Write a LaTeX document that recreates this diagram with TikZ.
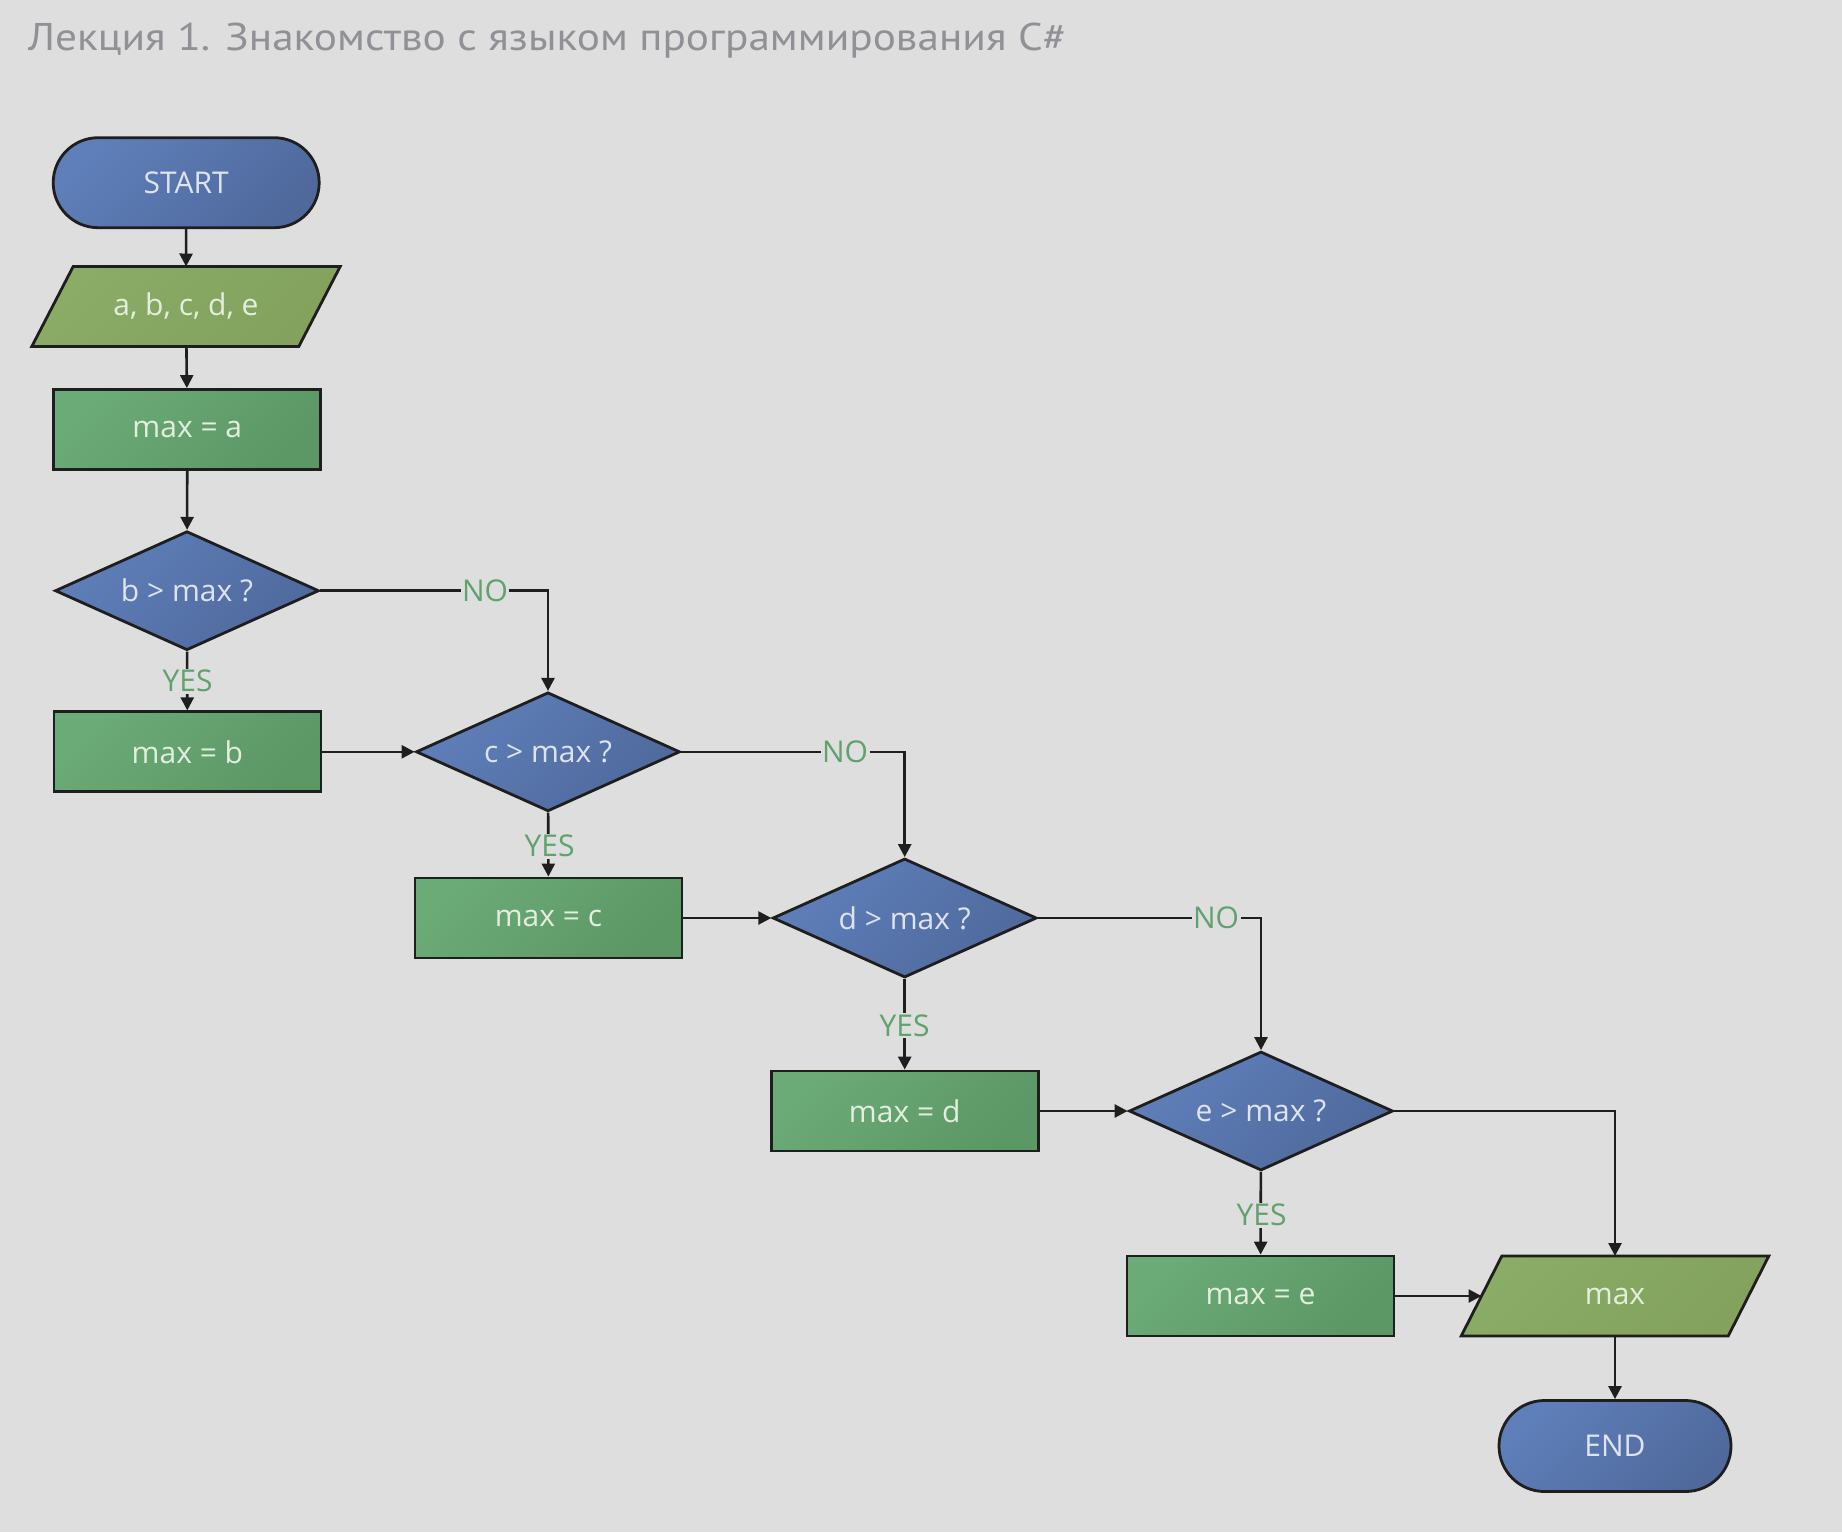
\documentclass[tikz,border=0pt]{standalone}
\usepackage{graphicx}
\usepackage{fontspec}
\setmainfont{Open Sans}
\newfontfamily\titlefont{PT Sans}
\usetikzlibrary{shapes.geometric,shapes.misc,arrows.meta,backgrounds}
\definecolor{bg}{HTML}{DEDEDE}
\definecolor{titlegray}{HTML}{909096}
\definecolor{blueL}{HTML}{5F7FBA}
\definecolor{blueD}{HTML}{4F699C}
\definecolor{rectL}{HTML}{6BAB77}
\definecolor{rectD}{HTML}{5C9766}
\definecolor{paraL}{HTML}{8AAC66}
\definecolor{paraD}{HTML}{82A25E}
\definecolor{linec}{HTML}{1E1E1E}
\definecolor{lblgreen}{HTML}{5FA26D}
\definecolor{txtblue}{HTML}{DEE4EF}
\definecolor{txtgreen}{HTML}{E4EEDF}
\begin{document}
\begin{tikzpicture}[x=1pt,y=-1pt,
  every node/.style={font=\fontsize{30}{36}\selectfont},
  shp/.style={draw=linec, line width=2.8pt, inner sep=0pt},
  termbox/.style={shp, rounded rectangle, top color=blueL, bottom color=blueD, shading angle=45, text=txtblue},
  procbox/.style={shp, rectangle, minimum width=267pt, minimum height=80pt, top color=rectL, bottom color=rectD, shading angle=45, text=txtgreen},
  decbox/.style={shp, diamond, aspect=2.2, minimum width=264pt, minimum height=119pt, top color=blueL, bottom color=blueD, shading angle=45, text=txtblue},
  iobox/.style={rectangle, inner sep=0pt, outer sep=0pt, minimum width=267pt, minimum height=80pt, text=txtgreen},
  iofill/.style={draw=linec, line width=2.8pt, line join=miter, top color=paraL, bottom color=paraD, shading angle=45},
  arr/.style={draw=linec, line width=2.6pt, -{Triangle[length=13pt,width=13pt]}},
  lbl/.style={fill=bg, text=lblgreen, inner sep=1.5pt}
]

\node[anchor=base west, text=titlegray, inner sep=0pt] (title) at (28,50)
  {\resizebox{1038pt}{27.5pt}{\titlefont Лекция 1. Знакомство с языком программирования C\#}};

\node[termbox, minimum width=266pt, minimum height=90pt] (start) at (186.2,182.7) {START};
\node[iobox] (in) at (186,306.5) {a, b, c, d, e};
\node[procbox] (maxa) at (187.3,429.5) {max = a};
\node[decbox] (db) at (187,590.7) {b > max ?};
\node[procbox] (maxb) at (187.4,751.8) {max = b};
\node[decbox] (dc) at (548,751.8) {c > max ?};
\node[procbox] (maxc) at (548.5,918) {max = c};
\node[decbox] (dd) at (904.7,918) {d > max ?};
\node[procbox] (maxd) at (904.7,1111) {max = d};
\node[decbox] (de) at (1261,1111) {e > max ?};
\node[procbox] (maxe) at (1260.5,1296) {max = e};
\node[iobox] (out) at (1615,1296) {max};
\node[termbox, minimum width=232pt, minimum height=91pt] (end) at (1615,1446) {END};

\begin{scope}[on background layer]
  \path[fill=bg] (0,0) rectangle (1842,1532);
  \draw[iofill] ([xshift=-20.7pt]in.south west) -- ([xshift=-20.7pt]in.south east)
     -- ([xshift=20.7pt]in.north east) -- ([xshift=20.7pt]in.north west) -- cycle;
  \draw[iofill] ([xshift=-20.3pt]out.south west) -- ([xshift=-20.3pt]out.south east)
     -- ([xshift=20.3pt]out.north east) -- ([xshift=20.3pt]out.north west) -- cycle;
\end{scope}

\draw[arr] (start) -- (in);
\draw[arr] (in) -- (maxa);
\draw[arr] (maxa) -- (db);
\draw[arr] (db) -- (maxb);
\draw[arr] (db.east) -| (dc.north);
\draw[arr] (maxb) -- (dc);
\draw[arr] (dc) -- (maxc);
\draw[arr] (dc.east) -| (dd.north);
\draw[arr] (maxc) -- (dd);
\draw[arr] (dd) -- (maxd);
\draw[arr] (dd.east) -| (de.north);
\draw[arr] (maxd) -- (de);
\draw[arr] (de) -- (maxe);
\draw[arr] (de.east) -| (out.north);
\draw[arr] (maxe) -- (out);
\draw[arr] (out) -- (end);

\node[lbl] (yesb) at (187.5,681) {YES};
\node[lbl] (nob) at (485,590.7) {NO};
\node[lbl] (yesc) at (549.5,846) {YES};
\node[lbl] (noc) at (845,751.8) {NO};
\node[lbl] (yesd) at (904.5,1025.5) {YES};
\node[lbl] (nod) at (1216,918) {NO};
\node[lbl] (yese) at (1261.5,1215) {YES};
\end{tikzpicture}
\end{document}
